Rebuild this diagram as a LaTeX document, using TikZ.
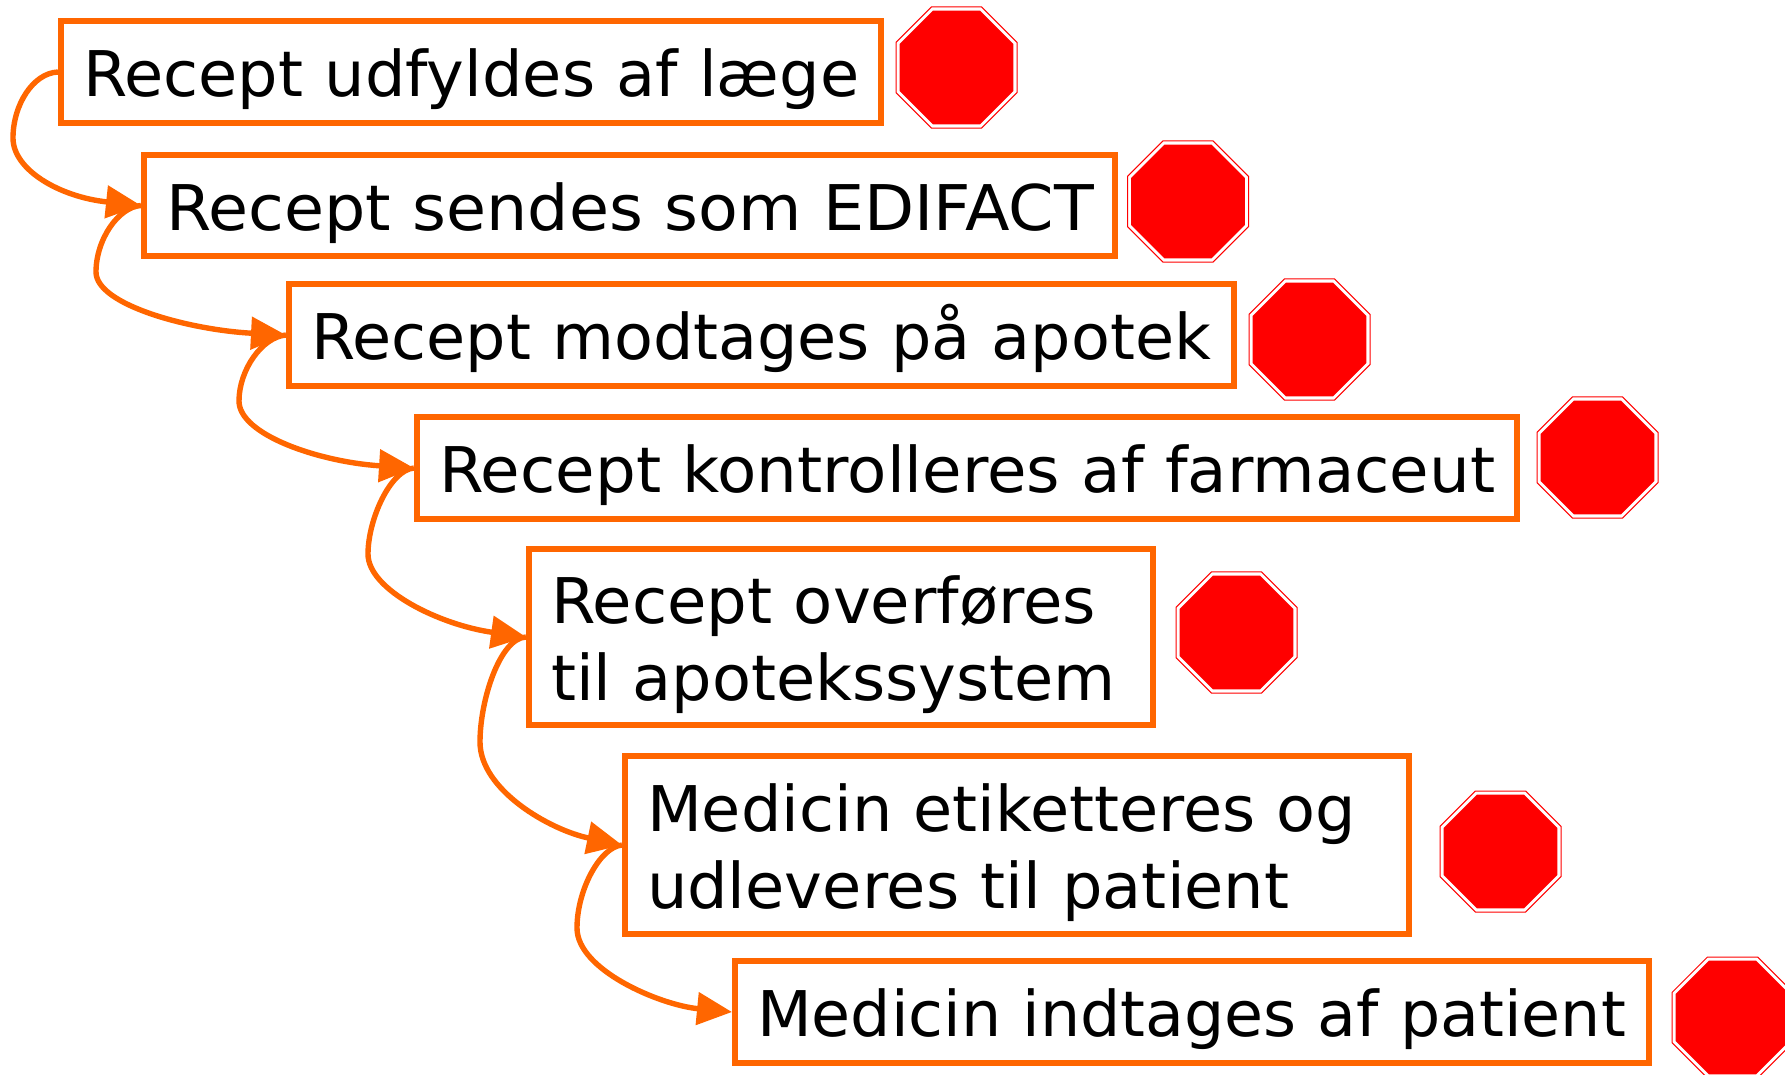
\documentclass[tikz,border=0pt]{standalone}
\usepackage{fontspec}
\setmainfont{DejaVu Sans}
\usetikzlibrary{arrows.meta,shapes.geometric}
\definecolor{flow}{HTML}{FF6600}
\tikzset{
  x=1pt,y=-1pt,
  stepbox/.style={draw=flow,line width=6pt,fill=white,inner xsep=22pt,inner ysep=0pt,align=left,
    font=\fontsize{63}{77}\selectfont,text=black},
  conn/.style={draw=flow,line width=5.4pt,-{Triangle[length=35pt,width=32pt]}},
  stopout/.style={regular polygon,regular polygon sides=8,draw=red,line width=1pt,fill=white,inner sep=0pt,minimum size=131pt},
  stopin/.style={regular polygon,regular polygon sides=8,fill=red,inner sep=0pt,minimum size=123pt},
}
\newcommand{\stopsign}[3]{%
  \node[stopout] (#1) at (#2,#3) {};
  \node[stopin] (#1i) at (#1.center) {};
}
\newcommand{\tln}[2]{\raisebox{-8pt}[48pt][15pt]{\scalebox{#1}[1]{#2}}}
\begin{document}
\begin{tikzpicture}
\useasboundingbox (0,0) rectangle (1785,1074);
\node[stepbox,minimum width=820pt,minimum height=102pt,text width=776pt] (b1) at (471,72) {\tln{1.012}{Recept udfyldes af læge}};
\node[stepbox,minimum width=971pt,minimum height=101pt,text width=927pt] (b2) at (629.5,205.5) {\tln{1.033}{Recept sendes som EDIFACT}};
\node[stepbox,minimum width=945pt,minimum height=102pt,text width=901pt] (b3) at (761.5,335) {\tln{1.010}{Recept modtages på apotek}};
\node[stepbox,minimum width=1100pt,minimum height=102pt,text width=1056pt] (b4) at (967,468) {\tln{1.020}{Recept kontrolleres af farmaceut}};
\node[stepbox,minimum width=624pt,minimum height=176pt,text width=580pt] (b5) at (841,637) {\tln{1.017}{Recept overføres}\\\tln{1.012}{til apotekssystem}};
\node[stepbox,minimum width=784pt,minimum height=178pt,text width=740pt] (b6) at (1017,845) {\tln{1.011}{Medicin etiketteres og}\\\tln{1.013}{udleveres til patient}};
\node[stepbox,minimum width=914pt,minimum height=102pt,text width=870pt] (b7) at (1192,1012) {\tln{1.007}{Medicin indtages af patient}};
\stopsign{s1}{956.5}{67.5}
\stopsign{s2}{1188}{201.5}
\stopsign{s3}{1309.5}{339.5}
\stopsign{s4}{1597.5}{457.5}
\stopsign{s5}{1236.5}{632.5}
\stopsign{s6}{1500.5}{851.5}
\stopsign{s7}{1732.5}{1017.5}
\coordinate (k1) at (13,138);
\coordinate (k2) at (96,272);
\coordinate (k3) at (239,401);
\coordinate (k4) at (368,554);
\coordinate (k5) at (480,742);
\coordinate (k6) at (577,928);
\draw[conn] (b1.west) .. controls (33,73) and (13,105) .. (k1) .. controls (13,170) and (60,197) .. (b2.west);
\draw[conn] (b2.west) .. controls (118,207) and (96,240) .. (k2) .. controls (96,305) and (190,330) .. (b3.west);
\draw[conn] (b3.west) .. controls (262,337) and (239,370) .. (k3) .. controls (239,435) and (320,462) .. (b4.west);
\draw[conn] (b4.west) .. controls (390,470) and (368,520) .. (k4) .. controls (368,590) and (440,625) .. (b5.west);
\draw[conn] (b5.west) .. controls (500,638) and (480,700) .. (k5) .. controls (480,790) and (550,830) .. (b6.west);
\draw[conn] (b6.west) .. controls (600,847) and (577,890) .. (k6) .. controls (577,970) and (660,1005) .. (b7.west);
\end{tikzpicture}
\end{document}
